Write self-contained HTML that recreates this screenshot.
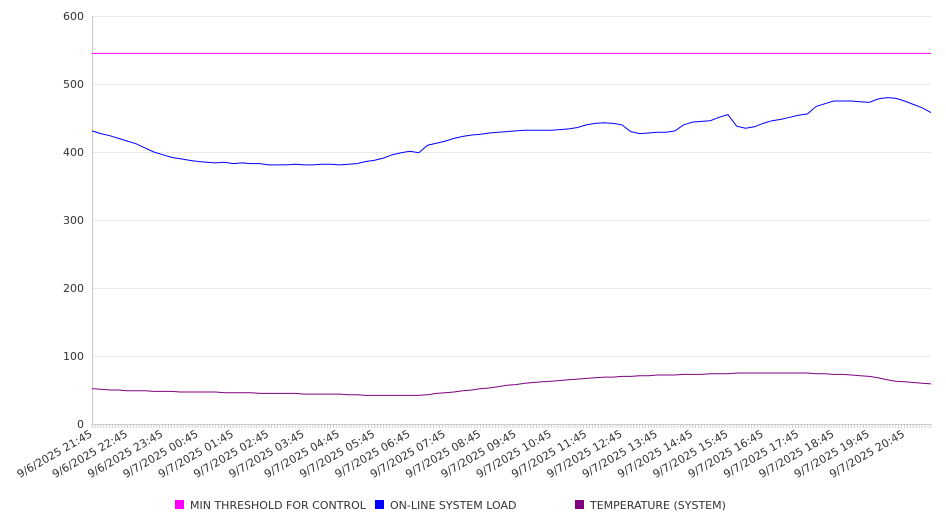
<!DOCTYPE html>
<html><head><meta charset="utf-8"><style>
body{margin:0;background:#fff;}
svg{display:block;font-family:"DejaVu Sans","Liberation Sans",sans-serif;}
</style></head><body>
<svg id="chart" width="946" height="526" viewBox="0 0 946 526">
<g id="grid"></g>
<g id="yaxis"></g>
<g id="xaxis"></g>
<g id="series"></g>
<g font-size="11" fill="#333">
<g><rect x="175" y="500" width="9" height="9" fill="#ff00ff"/><text x="190" y="509">MIN THRESHOLD FOR CONTROL</text></g>
<g><rect x="375" y="500" width="9" height="9" fill="#0000ff"/><text x="390" y="509">ON-LINE SYSTEM LOAD</text></g>
<g><rect x="575" y="500" width="9" height="9" fill="#800080"/><text x="590" y="509">TEMPERATURE (SYSTEM)</text></g>
</g>
</svg>
<script>
const yTicks=[0,100,200,300,400,500,600];
const xLabels=["9/6/2025 21:45","9/6/2025 22:45","9/6/2025 23:45","9/7/2025 00:45","9/7/2025 01:45","9/7/2025 02:45","9/7/2025 03:45","9/7/2025 04:45","9/7/2025 05:45","9/7/2025 06:45","9/7/2025 07:45","9/7/2025 08:45","9/7/2025 09:45","9/7/2025 10:45","9/7/2025 11:45","9/7/2025 12:45","9/7/2025 13:45","9/7/2025 14:45","9/7/2025 15:45","9/7/2025 16:45","9/7/2025 17:45","9/7/2025 18:45","9/7/2025 19:45","9/7/2025 20:45"];
const loadValues=[431,427,424,420,416,412,406,400,396,392,390,388,386,385,384,385,383,384,383,383,381,381,381,382,381,381,382,382,381,382,383,386,388,391,396,399,401,399,410,413,416,420,423,425,426,428,429,430,431,432,432,432,432,433,434,436,440,442,443,442,440,430,427,428,429,429,431,440,444,445,446,451,455,438,435,437,442,446,448,451,454,456,467,471,475,475,475,474,473,478,480,479,475,470,465,458];
const tempValues=[52,51,50,50,49,49,49,48,48,48,47,47,47,47,47,46,46,46,46,45,45,45,45,45,44,44,44,44,44,43,43,42,42,42,42,42,42,42,43,45,46,47,49,50,52,53,55,57,58,60,61,62,63,64,65,66,67,68,69,69,70,70,71,71,72,72,72,73,73,73,74,74,74,75,75,75,75,75,75,75,75,75,74,74,73,73,72,71,70,68,65,63,62,61,60,59];
const thresholdValue=545;
const NS="http://www.w3.org/2000/svg";
const X0=92,X1=931,Y0=424,Y1=16,YMAX=600;
const n=loadValues.length;
const xs=i=>X0+i*(X1-X0)/(n-1);
const ys=v=>Y0-v*(Y0-Y1)/YMAX;
const stepPerHour=4;
function el(t,a,p){const e=document.createElementNS(NS,t);for(const k in a)e.setAttribute(k,a[k]);p.appendChild(e);return e;}
const grid=document.getElementById('grid'),ya=document.getElementById('yaxis'),xa=document.getElementById('xaxis'),se=document.getElementById('series');
yTicks.forEach(v=>{
 const l=el('line',{x1:X0,x2:X1,y1:Math.round(ys(v))+0.5,y2:Math.round(ys(v))+0.5,stroke:v===0?'#ccc':'#e8e8e8','stroke-width':1},grid);
 
 
 const t=el('text',{x:84,y:ys(v)+4,'text-anchor':'end','font-size':11,fill:'#333'},ya);
 t.textContent=v;
 
 
});
el('line',{x1:X0+0.5,x2:X0+0.5,y1:Y1,y2:Y0,stroke:'#ccc'},ya);
for(let i=0;i<=(n-1)*3;i++){
 const x=xs(i/3);
 const tk=el('line',{x1:x,x2:x,y1:Y0,y2:Y0+4,stroke:'#ccc'},xa);
 
 
}
xLabels.forEach((s,i)=>{
 const x=xs(i*stepPerHour)+1,y=Y0+12;
 const t=el('text',{x:x,y:y,'text-anchor':'end','font-size':11,fill:'#333',transform:`rotate(-30 ${x} ${y})`},xa);
 t.textContent=s;
 
 
});
function line(vals,color,name){
 const d=vals.map((v,i)=>(i?'L':'M')+xs(i).toFixed(1)+' '+ys(v).toFixed(1)).join('');
 const p=el('path',{d:d,fill:'none',stroke:color,'stroke-width':1},se);
 
 
}
line(new Array(n).fill(thresholdValue),'#ff00ff','threshold-line');
line(loadValues,'#0000ff','load-line');
line(tempValues,'#800080','temperature-line');
</script>
</body></html>
